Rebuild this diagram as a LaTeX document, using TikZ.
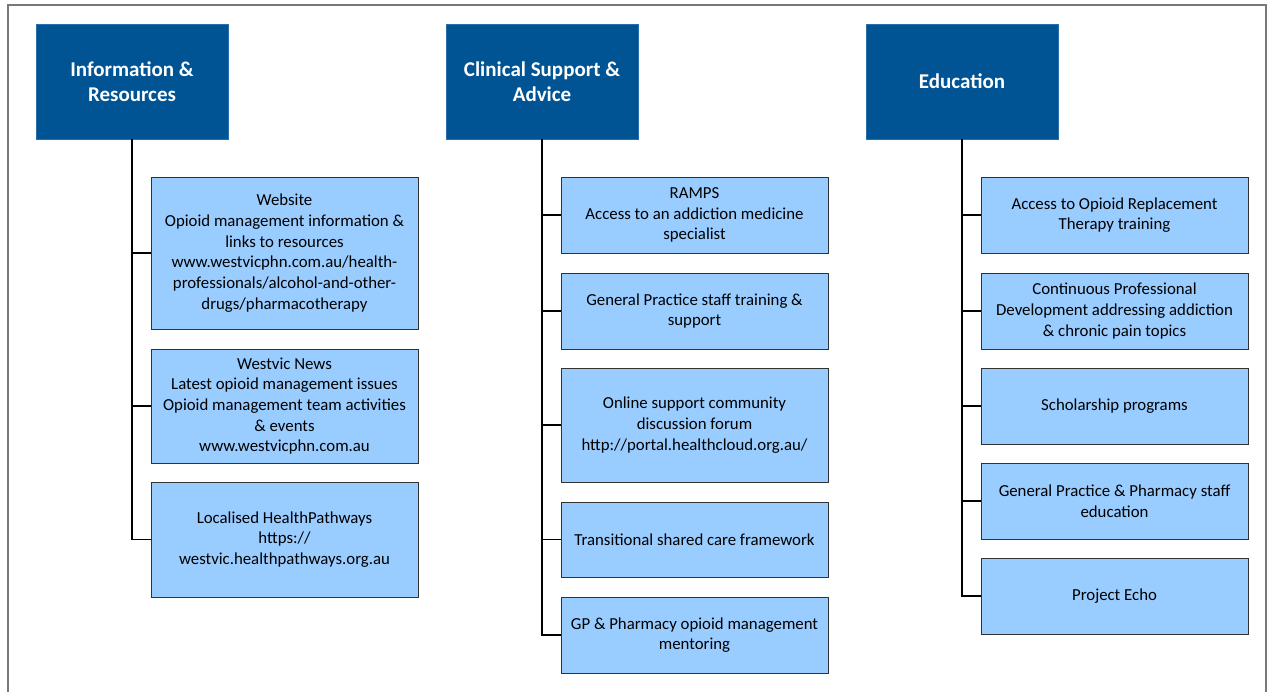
\documentclass[tikz,border=0pt]{standalone}
\usepackage{fontspec}
\setmainfont{Carlito}
\definecolor{headblue}{RGB}{0,84,147}
\definecolor{headedge}{RGB}{40,110,170}
\definecolor{itemblue}{RGB}{153,204,255}
\definecolor{itemedge}{RGB}{50,50,50}
\definecolor{framegray}{RGB}{120,120,120}
\begin{document}
\begin{tikzpicture}[
        x=1pt, y=-1pt,
        head/.style={rectangle, draw=headedge, fill=headblue, text=white, minimum width=192pt, minimum height=115pt, inner sep=0pt, align=center, font=\fontsize{21}{25}\selectfont\bfseries},
        item/.style={rectangle, draw=itemedge, line width=0.8pt, fill=itemblue, minimum width=267pt, minimum height=76pt, inner sep=0pt, align=center, font=\fontsize{16.8}{20.7}\selectfont},
        link/.style={line width=1.8pt, black}
    ]
        \useasboundingbox (0,0) rectangle (1268,691);
        % Outer frame (cut off at the bottom)
        \draw[framegray, line width=1.5pt] (8,695) -- (8,5) -- (1266,5) -- (1266,695);

        % Headers
        \node[head] (info) at (132, 81.5) {Information \&\\Resources};
        \node[head] (clin) at (542, 81.5) {Clinical Support \&\\Advice};
        \node[head] (edu) at (962, 81.5) {Education};

        % Information & Resources
        \node[item, minimum height=152pt] (web) at (284.5, 253) {Website\\Opioid management information \&\\links to resources\\www.westvicphn.com.au/health-\\professionals/alcohol-and-other-\\drugs/pharmacotherapy};
        \node[item, minimum height=114pt] (news) at (284.5, 406) {Westvic News\\Latest opioid management issues\\Opioid management team activities\\\& events\\www.westvicphn.com.au};
        \node[item, minimum height=115pt] (path) at (284.5, 539.5) {Localised HealthPathways\\https://\\westvic.healthpathways.org.au};

        % Clinical Support & Advice
        \node[item] (ramps) at (694.5, 215) {RAMPS\\Access to an addiction medicine\\specialist};
        \node[item] (gpstaff) at (694.5, 311) {General Practice staff training \&\\support};
        \node[item, minimum height=114pt] (forum) at (694.5, 425) {Online support community\\discussion forum\\http://portal.healthcloud.org.au/};
        \node[item, minimum height=75pt] (shared) at (694.5, 539.5) {Transitional shared care framework};
        \node[item] (mentor) at (694.5, 635) {GP \& Pharmacy opioid management\\mentoring};

        % Education
        \node[item] (ort) at (1114.5, 215) {Access to Opioid Replacement\\Therapy training};
        \node[item] (cpd) at (1114.5, 311) {Continuous Professional\\Development addressing addiction\\\& chronic pain topics};
        \node[item] (schol) at (1114.5, 406) {Scholarship programs};
        \node[item] (gpedu) at (1114.5, 501) {General Practice \& Pharmacy staff\\education};
        \node[item] (echo) at (1114.5, 596) {Project Echo};

        % Connectors
        \foreach \c in {web, news, path} {
            \draw[link] (info.south) |- (\c.west);
        }
        \foreach \c in {ramps, gpstaff, forum, shared, mentor} {
            \draw[link] (clin.south) |- (\c.west);
        }
        \foreach \c in {ort, cpd, schol, gpedu, echo} {
            \draw[link] (edu.south) |- (\c.west);
        }
    \end{tikzpicture}
\end{document}
